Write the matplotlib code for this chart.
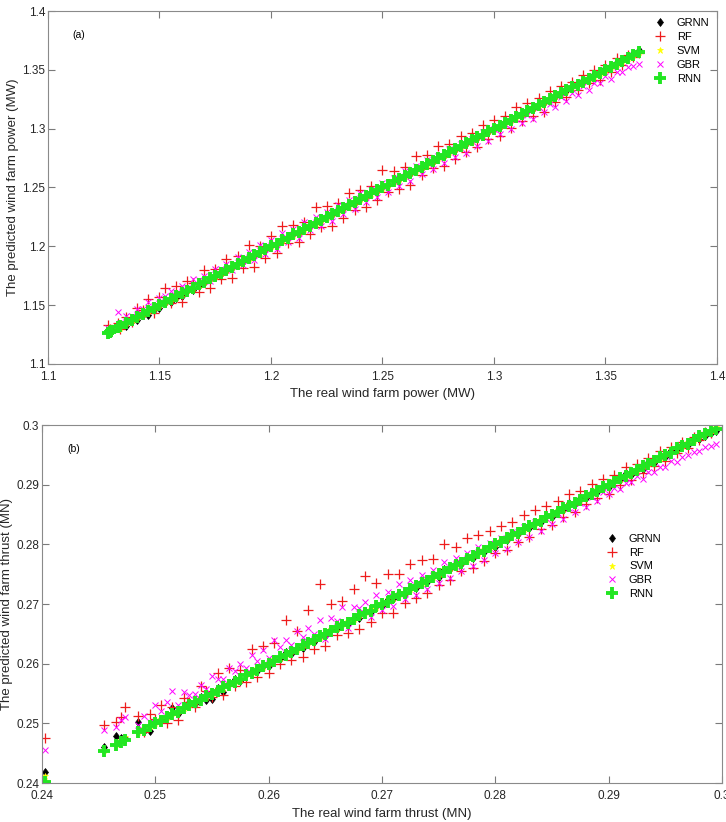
import matplotlib.pyplot as plt
from matplotlib.ticker import FuncFormatter

plt.rcParams['font.family'] = ['Liberation Sans', 'DejaVu Sans']

labels = ['GRNN', 'RF', 'SVM', 'GBR', 'RNN']

# (a) wind farm power (MW): real values and the prediction of each model
power_real = [1.1268, 1.1276, 1.1284, 1.1312, 1.1321,
              1.1350, 1.1375, 1.1400, 1.1425, 1.1450, 1.1475, 1.1500, 1.1525, 1.1550, 1.1575,
              1.1600, 1.1625, 1.1650, 1.1675, 1.1700, 1.1725, 1.1750, 1.1775, 1.1800, 1.1825,
              1.1850, 1.1875, 1.1900, 1.1925, 1.1950, 1.1975, 1.2000, 1.2025, 1.2050, 1.2075,
              1.2100, 1.2125, 1.2150, 1.2175, 1.2200, 1.2225, 1.2250, 1.2275, 1.2300, 1.2325,
              1.2350, 1.2375, 1.2400, 1.2425, 1.2450, 1.2475, 1.2500, 1.2525, 1.2550, 1.2575,
              1.2600, 1.2625, 1.2650, 1.2675, 1.2700, 1.2725, 1.2750, 1.2775, 1.2800, 1.2825,
              1.2850, 1.2875, 1.2900, 1.2925, 1.2950, 1.2975, 1.3000, 1.3025, 1.3050, 1.3075,
              1.3100, 1.3125, 1.3150, 1.3175, 1.3200, 1.3225, 1.3250, 1.3275, 1.3300, 1.3325,
              1.3350, 1.3375, 1.3400, 1.3425, 1.3450, 1.3475, 1.3500, 1.3525, 1.3550, 1.3575,
              1.3600, 1.3625, 1.3650]
power_grnn = [1.1285, 1.1290, 1.1300, 1.1335, 1.1340,
              1.1320, 1.1365, 1.1375, 1.1420, 1.1420, 1.1460, 1.1472, 1.1517, 1.1530, 1.1563,
              1.1578, 1.1619, 1.1632, 1.1665, 1.1685, 1.1721, 1.1738, 1.1767, 1.1790, 1.1820,
              1.1856, 1.1867, 1.1904, 1.1919, 1.1958, 1.1970, 1.2005, 1.2018, 1.2056, 1.2071,
              1.2106, 1.2117, 1.2154, 1.2169, 1.2208, 1.2220, 1.2255, 1.2268, 1.2306, 1.2321,
              1.2356, 1.2367, 1.2404, 1.2419, 1.2458, 1.2470, 1.2505, 1.2518, 1.2556, 1.2571,
              1.2606, 1.2617, 1.2654, 1.2669, 1.2708, 1.2720, 1.2755, 1.2768, 1.2806, 1.2821,
              1.2856, 1.2867, 1.2904, 1.2919, 1.2958, 1.2970, 1.3005, 1.3018, 1.3056, 1.3071,
              1.3106, 1.3117, 1.3154, 1.3169, 1.3208, 1.3220, 1.3255, 1.3268, 1.3306, 1.3321,
              1.3360, 1.3379, 1.3412, 1.3431, 1.3464, 1.3483, 1.3515, 1.3535, 1.3566, 1.3587,
              1.3618, 1.3640, 1.3668]
power_rf = [1.1328, 1.1296, 1.1274, 1.1352, 1.1301,
            1.1400, 1.1355, 1.1480, 1.1455, 1.1550, 1.1435, 1.1570, 1.1645, 1.1520, 1.1665,
            1.1530, 1.1705, 1.1690, 1.1615, 1.1800, 1.1645, 1.1810, 1.1725, 1.1890, 1.1735,
            1.1920, 1.1815, 1.2010, 1.1825, 1.2000, 1.1905, 1.2090, 1.1945, 1.2170, 1.2025,
            1.2180, 1.2035, 1.2210, 1.2105, 1.2330, 1.2165, 1.2340, 1.2175, 1.2370, 1.2245,
            1.2450, 1.2305, 1.2480, 1.2335, 1.2510, 1.2395, 1.2650, 1.2465, 1.2640, 1.2485,
            1.2670, 1.2525, 1.2770, 1.2605, 1.2780, 1.2665, 1.2850, 1.2685, 1.2870, 1.2745,
            1.2940, 1.2805, 1.2960, 1.2845, 1.3030, 1.2915, 1.3070, 1.2935, 1.3110, 1.3005,
            1.3180, 1.3065, 1.3220, 1.3105, 1.3260, 1.3145, 1.3320, 1.3225, 1.3360, 1.3265,
            1.3400, 1.3325, 1.3460, 1.3385, 1.3500, 1.3415, 1.3540, 1.3485, 1.3600, 1.3545,
            1.3630, 1.3605, 1.3640]
power_svm = [1.1265, 1.1272, 1.1280, 1.1300, 1.1308,
             1.1348, 1.1376, 1.1399, 1.1425, 1.1447, 1.1477, 1.1499, 1.1525, 1.1552, 1.1573,
             1.1598, 1.1626, 1.1649, 1.1675, 1.1697, 1.1727, 1.1749, 1.1775, 1.1802, 1.1823,
             1.1848, 1.1876, 1.1899, 1.1925, 1.1947, 1.1977, 1.1999, 1.2025, 1.2052, 1.2073,
             1.2098, 1.2126, 1.2149, 1.2175, 1.2197, 1.2227, 1.2249, 1.2275, 1.2302, 1.2323,
             1.2348, 1.2376, 1.2399, 1.2425, 1.2447, 1.2477, 1.2499, 1.2525, 1.2552, 1.2573,
             1.2598, 1.2626, 1.2649, 1.2675, 1.2697, 1.2727, 1.2749, 1.2775, 1.2802, 1.2823,
             1.2848, 1.2876, 1.2899, 1.2925, 1.2947, 1.2977, 1.2999, 1.3025, 1.3052, 1.3073,
             1.3098, 1.3126, 1.3149, 1.3175, 1.3197, 1.3227, 1.3249, 1.3275, 1.3302, 1.3323,
             1.3348, 1.3376, 1.3399, 1.3425, 1.3447, 1.3477, 1.3499, 1.3525, 1.3552, 1.3573,
             1.3598, 1.3626, 1.3650]
power_gbr = [1.1305, 1.1290, 1.1300, 1.1440, 1.1345,
             1.1410, 1.1405, 1.1470, 1.1465, 1.1530, 1.1495, 1.1560, 1.1575, 1.1620, 1.1605,
             1.1660, 1.1645, 1.1720, 1.1715, 1.1750, 1.1705, 1.1810, 1.1805, 1.1850, 1.1795,
             1.1910, 1.1845, 1.1950, 1.1885, 1.2010, 1.1935, 1.2050, 1.1975, 1.2110, 1.2035,
             1.2150, 1.2075, 1.2210, 1.2135, 1.2250, 1.2175, 1.2290, 1.2215, 1.2350, 1.2275,
             1.2390, 1.2315, 1.2450, 1.2375, 1.2490, 1.2415, 1.2540, 1.2465, 1.2580, 1.2515,
             1.2640, 1.2555, 1.2680, 1.2615, 1.2730, 1.2655, 1.2770, 1.2705, 1.2830, 1.2755,
             1.2870, 1.2795, 1.2910, 1.2855, 1.2970, 1.2895, 1.3000, 1.2955, 1.3040, 1.2995,
             1.3080, 1.3045, 1.3120, 1.3085, 1.3180, 1.3145, 1.3210, 1.3185, 1.3270, 1.3235,
             1.3300, 1.3285, 1.3360, 1.3325, 1.3390, 1.3385, 1.3450, 1.3425, 1.3480, 1.3485,
             1.3520, 1.3535, 1.3550]
power_rnn = [1.1262, 1.1272, 1.1282, 1.1312, 1.1320,
             1.1351, 1.1374, 1.1400, 1.1426, 1.1449, 1.1477, 1.1500, 1.1524, 1.1551, 1.1575,
             1.1601, 1.1624, 1.1650, 1.1676, 1.1699, 1.1727, 1.1750, 1.1774, 1.1801, 1.1825,
             1.1851, 1.1874, 1.1900, 1.1926, 1.1949, 1.1977, 1.2000, 1.2024, 1.2051, 1.2075,
             1.2101, 1.2124, 1.2150, 1.2176, 1.2199, 1.2227, 1.2250, 1.2274, 1.2301, 1.2325,
             1.2351, 1.2374, 1.2400, 1.2426, 1.2449, 1.2477, 1.2500, 1.2524, 1.2551, 1.2575,
             1.2601, 1.2624, 1.2650, 1.2676, 1.2699, 1.2727, 1.2750, 1.2774, 1.2801, 1.2825,
             1.2851, 1.2874, 1.2900, 1.2926, 1.2949, 1.2977, 1.3000, 1.3024, 1.3051, 1.3075,
             1.3101, 1.3124, 1.3150, 1.3176, 1.3199, 1.3227, 1.3250, 1.3274, 1.3301, 1.3325,
             1.3351, 1.3374, 1.3400, 1.3426, 1.3449, 1.3477, 1.3500, 1.3524, 1.3551, 1.3575,
             1.3601, 1.3624, 1.3648]

# (b) wind farm thrust (MN)
thrust_real = [0.2403, 0.2455, 0.2465, 0.2470, 0.2473,
               0.2485, 0.2490, 0.2495, 0.2500, 0.2505, 0.2510, 0.2515, 0.2520, 0.2525, 0.2530,
               0.2535, 0.2540, 0.2545, 0.2550, 0.2555, 0.2560, 0.2565, 0.2570, 0.2575, 0.2580,
               0.2585, 0.2590, 0.2595, 0.2600, 0.2605, 0.2610, 0.2615, 0.2620, 0.2625, 0.2630,
               0.2635, 0.2640, 0.2645, 0.2650, 0.2655, 0.2660, 0.2665, 0.2670, 0.2675, 0.2680,
               0.2685, 0.2690, 0.2695, 0.2700, 0.2705, 0.2710, 0.2715, 0.2720, 0.2725, 0.2730,
               0.2735, 0.2740, 0.2745, 0.2750, 0.2755, 0.2760, 0.2765, 0.2770, 0.2775, 0.2780,
               0.2785, 0.2790, 0.2795, 0.2800, 0.2805, 0.2810, 0.2815, 0.2820, 0.2825, 0.2830,
               0.2835, 0.2840, 0.2845, 0.2850, 0.2855, 0.2860, 0.2865, 0.2870, 0.2875, 0.2880,
               0.2885, 0.2890, 0.2895, 0.2900, 0.2905, 0.2910, 0.2915, 0.2920, 0.2925, 0.2930,
               0.2935, 0.2940, 0.2945, 0.2950, 0.2955, 0.2960, 0.2965, 0.2970, 0.2975, 0.2980,
               0.2985, 0.2990, 0.2995]
thrust_grnn = [0.2418, 0.2460, 0.2479, 0.2475, 0.2476,
               0.2503, 0.2488, 0.2487, 0.2503, 0.2508, 0.2511, 0.2525, 0.2515, 0.2527, 0.2535,
               0.2532, 0.2544, 0.2539, 0.2541, 0.2559, 0.2552, 0.2567, 0.2575, 0.2571, 0.2582,
               0.2588, 0.2587, 0.2597, 0.2596, 0.2608, 0.2608, 0.2619, 0.2617, 0.2627, 0.2627,
               0.2638, 0.2637, 0.2647, 0.2646, 0.2658, 0.2658, 0.2669, 0.2667, 0.2677, 0.2677,
               0.2688, 0.2687, 0.2697, 0.2696, 0.2708, 0.2708, 0.2719, 0.2717, 0.2727, 0.2727,
               0.2738, 0.2737, 0.2747, 0.2746, 0.2758, 0.2758, 0.2769, 0.2767, 0.2777, 0.2777,
               0.2788, 0.2787, 0.2797, 0.2796, 0.2808, 0.2808, 0.2819, 0.2817, 0.2827, 0.2827,
               0.2838, 0.2837, 0.2847, 0.2846, 0.2858, 0.2858, 0.2869, 0.2867, 0.2877, 0.2877,
               0.2888, 0.2887, 0.2897, 0.2896, 0.2908, 0.2908, 0.2919, 0.2917, 0.2927, 0.2927,
               0.2938, 0.2937, 0.2947, 0.2946, 0.2958, 0.2958, 0.2969, 0.2967, 0.2977, 0.2977,
               0.2982, 0.2987, 0.2990]
thrust_rf = [0.2475, 0.2498, 0.2502, 0.2510, 0.2528,
             0.2512, 0.2485, 0.2515, 0.2508, 0.2530, 0.2500, 0.2527, 0.2505, 0.2543, 0.2536,
             0.2527, 0.2562, 0.2555, 0.2544, 0.2585, 0.2548, 0.2593, 0.2562, 0.2590, 0.2570,
             0.2625, 0.2578, 0.2630, 0.2585, 0.2635, 0.2600, 0.2673, 0.2606, 0.2655, 0.2612,
             0.2690, 0.2625, 0.2733, 0.2630, 0.2700, 0.2648, 0.2705, 0.2652, 0.2725, 0.2658,
             0.2747, 0.2670, 0.2735, 0.2685, 0.2750, 0.2685, 0.2750, 0.2702, 0.2767, 0.2710,
             0.2773, 0.2718, 0.2775, 0.2732, 0.2800, 0.2740, 0.2795, 0.2755, 0.2810, 0.2760,
             0.2815, 0.2772, 0.2823, 0.2785, 0.2830, 0.2790, 0.2837, 0.2804, 0.2849, 0.2812,
             0.2857, 0.2825, 0.2865, 0.2832, 0.2873, 0.2846, 0.2885, 0.2854, 0.2890, 0.2868,
             0.2901, 0.2878, 0.2909, 0.2885, 0.2917, 0.2900, 0.2929, 0.2908, 0.2935, 0.2920,
             0.2945, 0.2932, 0.2957, 0.2940, 0.2963, 0.2954, 0.2971, 0.2962, 0.2980, 0.2975,
             0.2989, 0.2987, 0.2993]
thrust_svm = [0.2412, 0.2455, 0.2466, 0.2472, 0.2477,
              0.2486, 0.2492, 0.2495, 0.2501, 0.2508, 0.2510, 0.2517, 0.2521, 0.2525, 0.2532,
              0.2536, 0.2542, 0.2545, 0.2551, 0.2558, 0.2560, 0.2567, 0.2571, 0.2575, 0.2582,
              0.2586, 0.2592, 0.2595, 0.2601, 0.2608, 0.2610, 0.2617, 0.2621, 0.2625, 0.2632,
              0.2636, 0.2642, 0.2645, 0.2651, 0.2658, 0.2660, 0.2667, 0.2671, 0.2675, 0.2682,
              0.2686, 0.2692, 0.2695, 0.2701, 0.2708, 0.2710, 0.2717, 0.2721, 0.2725, 0.2732,
              0.2736, 0.2742, 0.2745, 0.2751, 0.2758, 0.2760, 0.2767, 0.2771, 0.2775, 0.2782,
              0.2786, 0.2792, 0.2795, 0.2801, 0.2808, 0.2810, 0.2817, 0.2821, 0.2825, 0.2832,
              0.2836, 0.2842, 0.2845, 0.2851, 0.2858, 0.2860, 0.2867, 0.2871, 0.2875, 0.2882,
              0.2886, 0.2892, 0.2895, 0.2901, 0.2908, 0.2910, 0.2917, 0.2921, 0.2925, 0.2932,
              0.2936, 0.2942, 0.2945, 0.2951, 0.2958, 0.2960, 0.2967, 0.2971, 0.2975, 0.2982,
              0.2986, 0.2992, 0.2996]
thrust_gbr = [0.2455, 0.2489, 0.2494, 0.2505, 0.2510,
              0.2497, 0.2512, 0.2503, 0.2530, 0.2520, 0.2535, 0.2555, 0.2530, 0.2553, 0.2548,
              0.2550, 0.2565, 0.2557, 0.2580, 0.2575, 0.2574, 0.2593, 0.2588, 0.2600, 0.2592,
              0.2615, 0.2605, 0.2623, 0.2610, 0.2640, 0.2628, 0.2640, 0.2632, 0.2655, 0.2645,
              0.2660, 0.2650, 0.2673, 0.2642, 0.2677, 0.2672, 0.2695, 0.2660, 0.2695, 0.2694,
              0.2703, 0.2678, 0.2715, 0.2690, 0.2720, 0.2696, 0.2733, 0.2708, 0.2741, 0.2715,
              0.2749, 0.2725, 0.2757, 0.2736, 0.2770, 0.2744, 0.2777, 0.2755, 0.2785, 0.2764,
              0.2795, 0.2774, 0.2803, 0.2785, 0.2811, 0.2792, 0.2820, 0.2804, 0.2829, 0.2812,
              0.2837, 0.2822, 0.2845, 0.2834, 0.2853, 0.2842, 0.2861, 0.2855, 0.2870, 0.2862,
              0.2879, 0.2872, 0.2887, 0.2884, 0.2895, 0.2892, 0.2903, 0.2904, 0.2915, 0.2910,
              0.2921, 0.2922, 0.2930, 0.2930, 0.2939, 0.2938, 0.2947, 0.2950, 0.2955, 0.2956,
              0.2963, 0.2965, 0.2968]
thrust_rnn = [0.2401, 0.2454, 0.2463, 0.2468, 0.2472,
              0.2485, 0.2489, 0.2496, 0.2500, 0.2504, 0.2511, 0.2515, 0.2519, 0.2525, 0.2531,
              0.2535, 0.2539, 0.2546, 0.2550, 0.2554, 0.2561, 0.2565, 0.2569, 0.2575, 0.2581,
              0.2585, 0.2589, 0.2596, 0.2600, 0.2604, 0.2611, 0.2615, 0.2619, 0.2625, 0.2631,
              0.2635, 0.2639, 0.2646, 0.2650, 0.2654, 0.2661, 0.2665, 0.2669, 0.2675, 0.2681,
              0.2685, 0.2689, 0.2696, 0.2700, 0.2704, 0.2711, 0.2715, 0.2719, 0.2725, 0.2731,
              0.2735, 0.2739, 0.2746, 0.2750, 0.2754, 0.2761, 0.2765, 0.2769, 0.2775, 0.2781,
              0.2785, 0.2789, 0.2796, 0.2800, 0.2804, 0.2811, 0.2815, 0.2819, 0.2825, 0.2831,
              0.2835, 0.2839, 0.2846, 0.2850, 0.2854, 0.2861, 0.2865, 0.2869, 0.2875, 0.2881,
              0.2885, 0.2889, 0.2896, 0.2900, 0.2904, 0.2911, 0.2915, 0.2919, 0.2925, 0.2931,
              0.2935, 0.2939, 0.2946, 0.2950, 0.2954, 0.2961, 0.2965, 0.2969, 0.2975, 0.2981,
              0.2985, 0.2990, 0.2994]

power_ticks = [1.1, 1.15, 1.2, 1.25, 1.3, 1.35, 1.4]
thrust_ticks = [0.24, 0.25, 0.26, 0.27, 0.28, 0.29, 0.3]

# marker style per model (matlab-ish)
styles = {
    'GRNN': dict(marker='d', color='black', ms=4.5, mew=0.5),
    'RF': dict(marker='+', color='#ee1c1c', ms=7, mew=0.9),
    'SVM': dict(marker='*', color='#ffff00', ms=5, mew=0.5),
    'GBR': dict(marker='x', color='#ff00ff', ms=4, mew=0.7),
    'RNN': dict(marker='+', color='#22e622', ms=8, mew=2.8),
}

fig = plt.figure(figsize=(7.26, 8.22), dpi=100)
ax1 = fig.add_axes([0.0661, 0.5572, 0.9215, 0.4294])
ax2 = fig.add_axes([0.0579, 0.0474, 0.9366, 0.4355])

fmt = FuncFormatter(lambda v, p: f'{v:g}')

panels = [
    (ax1, power_real, [power_grnn, power_rf, power_svm, power_gbr, power_rnn], power_ticks,
     'The real wind farm power (MW)', 'The predicted wind farm power (MW)', '(a)',
     (0.036, 0.932), (0.900, 0.992)),
    (ax2, thrust_real, [thrust_grnn, thrust_rf, thrust_svm, thrust_gbr, thrust_rnn], thrust_ticks,
     'The real wind farm thrust (MN)', 'The predicted wind farm thrust (MN)', '(b)',
     (0.037, 0.933), (0.824, 0.709)),
]

for ax, real, preds, ticks, xl, yl, tag, tagpos, legpos in panels:
    for name, pred in zip(labels, preds):
        ax.plot(real, pred, linestyle='none', label=name, **styles[name])
    ax.set_xlim(ticks[0], ticks[-1])
    ax.set_ylim(ticks[0], ticks[-1])
    ax.set_xticks(ticks)
    ax.set_yticks(ticks)
    ax.xaxis.set_major_formatter(fmt)
    ax.yaxis.set_major_formatter(fmt)
    ax.tick_params(direction='in', top=True, right=True, length=5, width=0.8,
                   color='#7a7a7a', labelsize=8.5, labelcolor='#262626')
    ax.tick_params(axis='y', pad=2)
    ax.tick_params(axis='x', pad=5)
    for sp in ax.spines.values():
        sp.set_color('#8a8a8a')
        sp.set_linewidth(0.8)
    ax.set_xlabel(xl, fontsize=9.5, color='#262626', labelpad=4)
    ax.set_ylabel(yl, fontsize=9.5, color='#262626', labelpad=2)
    ax.text(tagpos[0], tagpos[1], tag, transform=ax.transAxes, fontsize=7.5,
            va='center', ha='left')
    ax.legend(loc='upper left', bbox_to_anchor=legpos, frameon=False, fontsize=8,
              handlelength=1.0, handletextpad=1.0, labelspacing=0.35, borderaxespad=0)

fig.savefig('out.png', dpi=100)
